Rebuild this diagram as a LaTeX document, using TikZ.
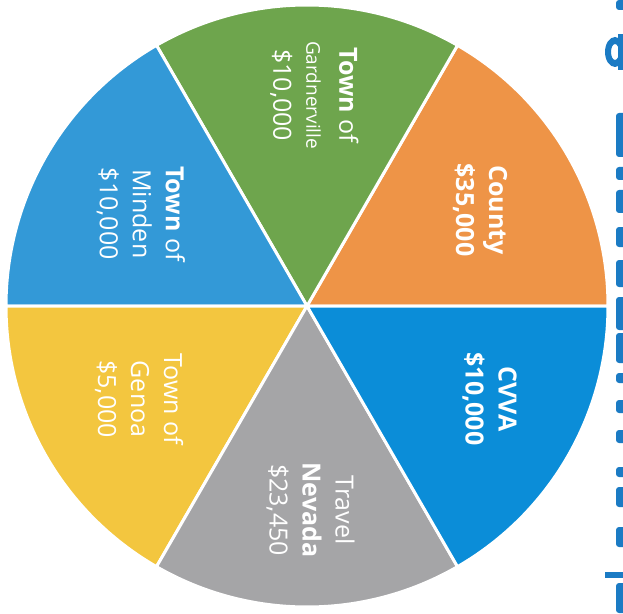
\documentclass[tikz,border=0pt]{standalone}
\usepackage{fontspec}
\setmainfont{Open Sans}
\usetikzlibrary{positioning}

\definecolor{PieOrange}{HTML}{EE9447}
\definecolor{PieGreen}{HTML}{6EA54D}
\definecolor{PieSky}{HTML}{3399D7}
\definecolor{PieYellow}{HTML}{F3C63F}
\definecolor{PieGrey}{HTML}{A5A5A7}
\definecolor{PieBlue}{HTML}{0B8DD8}
\definecolor{EdgeBlue}{HTML}{1B7BC4}

\tikzstyle{Label} = [
	text=white,
	align=center,
	rotate=-90,
	inner sep=0pt,
	font=\fontsize{25}{33}\selectfont
	]

\begin{document}
\begin{tikzpicture}[x=1pt, y=1pt,
slice/.style={draw=white, line width=3pt, line join=round},
bit/.style={fill=EdgeBlue, rounded corners=3pt}
]
 \useasboundingbox (-307,-307) rectangle (316,306);

 \foreach \a/\c in {0/PieOrange, 60/PieGreen, 120/PieSky, 180/PieYellow, 240/PieGrey, 300/PieBlue}
   \filldraw[slice, fill=\c] (0,0) -- (\a:301) arc[start angle=\a, delta angle=60, radius=301] -- cycle;

 \node[Label] (county) at (29:198) {\textbf{County}\\\textbf{\$35,000}};
 \node[Label] (gardnerville) at (88:211) {\textbf{Town} of\\{\fontsize{19}{30}\selectfont Gardnerville}\\\$10,000};
 \node[Label] (minden) at (151:190) {\textbf{Town} of\\Minden\\\$10,000};
 \node[Label] (genoa) at (209:192) {Town of\\Genoa\\\$5,000};
 \node[Label] (nevada) at (271:204) {Travel\\\textbf{Nevada}\\\$23,450};
 \node[Label] (cvva) at (333:205) {\textbf{CVVA}\\\textbf{\$10,000}};

 % cut-off lettering at the right edge
 \begin{scope}
  \clip (293,-307) rectangle (316,306);
  \foreach \t/\b in {306/296, 193/173, 181/149, 139/126, 116/93, 79/59, 46/19, 9/-24, -27/-57, -67/-77, -94/-107, -124/-137, -161/-171, -181/-201, -221/-241, -277/-307}
    \fill[bit] (309,\b) rectangle (322,\t);
  \fill[EdgeBlue] (298,-266) rectangle (316,-272);
  \fill[EdgeBlue, even odd rule] (308,254) ellipse (10 and 15) (308,254) ellipse (4 and 8);
  \fill[EdgeBlue] (311,236) rectangle (320,272);
 \end{scope}

\end{tikzpicture}
\end{document}
